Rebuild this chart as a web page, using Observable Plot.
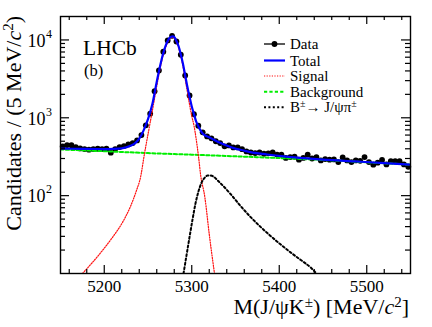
<!DOCTYPE html>
<html><head><meta charset="utf-8">
<script src="https://cdn.jsdelivr.net/npm/d3@7"></script>
<script src="https://cdn.jsdelivr.net/npm/@observablehq/plot@0.6"></script>
<style>
body{margin:0;background:#fff;}
#chart{position:relative;width:432px;height:327px;}
</style>
</head><body><div id="chart"></div>
<script>
// ---- data ----
const dataMass = [5152.5,5157.5,5162.5,5167.5,5172.5,5177.5,5182.5,5187.5,5192.5,5197.5,
  5202.5,5207.5,5212.5,5217.5,5222.5,5227.5,5232.5,5237.5,5242.5,5247.5,
  5252.5,5257.5,5262.5,5267.5,5272.5,5277.5,5282.5,5287.5,5292.5,5297.5,
  5302.5,5307.5,5312.5,5317.5,5322.5,5327.5,5332.5,5337.5,5342.5,5347.5,
  5352.5,5357.5,5362.5,5367.5,5372.5,5377.5,5382.5,5387.5,5392.5,5397.5,
  5402.5,5407.5,5412.5,5417.5,5422.5,5427.5,5432.5,5437.5,5442.5,5447.5,
  5452.5,5457.5,5462.5,5467.5,5472.5,5477.5,5482.5,5487.5,5492.5,5497.5,
  5502.5,5507.5,5512.5,5517.5,5522.5,5527.5,5532.5,5537.5,5542.5,5547.5];
const dataCounts = [429,446,444,420,404,396,389,396,400,396,
  400,356,396,420,433,455,473,512,600,800,
  1130,2200,4050,7050,9850,11300,9550,6450,3500,1940,
  1110,790,650,577,545,500,473,430,442,416,
  416,395,370,358,352,358,345,350,360,337,
  335,305,313,316,290,305,336,300,313,283,
  295,290,292,270,310,283,270,283,280,313,
  270,250,265,288,252,277,277,277,252,235];

const totalMass = [5150,5175,5200,5210,5220,5230,5235,5240,5245,5250,5255,5260,5265,5270,5275,5278,5280,5282.5,5285,5287.5,5290,5292.5,5295,5297.5,5300,5302.5,5305,5307.5,5310,5313,5321,5333,5340,5348,5358,5367,5386,5405,5428,5450,5487,5520,5550];
const totalVal  = [402,399,397,399,405,437,470,540,690,960,1500,2900,5300,8300,10700,11100,10900,9700,8300,6500,4900,3500,2500,1850,1400,1120,900,780,690,620,555,473,440,408,383,362,338,319,303,290,275,262,250];

const sigMass = [5175.1,5186.6,5198,5209.4,5220.9,5230,5236.9,5241.4,5246,5250.6,5255,5260,5265,5270,5275,5278,5280,5282.5,5285,5287.5,5290,5292.5,5295,5297.5,5300,5302.5,5305,5308,5310,5315,5320,5326];
const sigVal  = [10,13.9,19.8,29.1,45.4,72.8,117,171,348,668,1240,2550,4950,7950,10350,10750,10550,9350,7950,6150,4550,3150,2150,1480,1050,800,540,300,190,95,32,10];

const bkgMass = [5150,5200,5250,5300,5350,5400,5450,5500,5550];
const bkgVal  = [392,372,352,336,320,304,288,268,250];

const bpiMass = [5290.6,5294,5297.4,5300.9,5304.3,5307.7,5311.1,5314.6,5318,5321.4,5332.9,5344.3,5355.7,5367.1,5378.6,5390,5401.4,5412.9,5424.3,5435.7,5442.6];
const bpiVal  = [10,17.1,29.1,49.5,79.5,113.5,146,169,181,181,144,105,73.8,53.3,39.7,30.4,23.7,18.7,15,12,10];

const xTicks = [5200,5300,5400,5500];
const xMinorTicks = [5160,5180,5220,5240,5260,5280,5320,5340,5360,5380,5420,5440,5460,5480,5520,5540];
const yTicks = [100,1000,10000];
const yTickExp = ["2","3","4"];
const yMinorTicks = [20,30,40,50,60,70,80,90,200,300,400,500,600,700,800,900,2000,3000,4000,5000,6000,7000,8000,9000];

// ---- tables ----
const zip = (a,b) => a.map((m,i)=>({m, v:b[i]}));
const data = zip(dataMass, dataCounts);
const total = zip(totalMass, totalVal);
const sig = zip(sigMass, sigVal);
const bkg = zip(bkgMass, bkgVal);
const bpi = zip(bpiMass, bpiVal);

const W=432, H=327, mL=60, mR=22, mT=16, mB=54;
const fw = W-mL-mR, fh = H-mT-mB;
const ff = "Liberation Serif";

const dashes = {sig:"1.2,1.4", bkg:"3.2,2.2", bpi:"2,2.4"};

const plot = Plot.plot({
  width: W, height: H,
  marginLeft: mL, marginRight: mR, marginTop: mT, marginBottom: mB,
  style: {fontFamily: ff, fontSize: "18px", color: "black", background: "white", overflow: "visible"},
  x: {domain: [5150, 5550]},
  y: {type: "log", domain: [10, 20000]},
  marks: [
    Plot.dot(data, {x:"m", y:"v", r:2.9, fill:"black", stroke:"none"}),
    Plot.line(bkg, {x:"m", y:"v", stroke:"#00ee00", strokeWidth:2, strokeDasharray:dashes.bkg, curve:"monotone-x", clip:true}),
    Plot.line(sig, {x:"m", y:"v", stroke:"#ff1010", strokeWidth:1.2, strokeDasharray:dashes.sig, curve:"monotone-x", clip:true}),
    Plot.line(bpi, {x:"m", y:"v", stroke:"#000000", strokeWidth:2, strokeDasharray:dashes.bpi, curve:"monotone-x", clip:true}),
    Plot.line(total, {x:"m", y:"v", stroke:"#0000ff", strokeWidth:2.2, curve:"monotone-x", clip:true}),
    // inward ticks, bottom/top
    Plot.ruleX(xTicks, {x:d=>d, insetTop: fh-8, stroke:"black", strokeWidth:1.2}),
    Plot.ruleX(xMinorTicks, {x:d=>d, insetTop: fh-4, stroke:"black", strokeWidth:1.2}),
    Plot.ruleX(xTicks, {x:d=>d, insetBottom: fh-8, stroke:"black", strokeWidth:1.2}),
    Plot.ruleX(xMinorTicks, {x:d=>d, insetBottom: fh-4, stroke:"black", strokeWidth:1.2}),
    // inward ticks, left/right
    Plot.ruleY(yTicks, {y:d=>d, insetRight: fw-9, stroke:"black", strokeWidth:1.2}),
    Plot.ruleY(yMinorTicks, {y:d=>d, insetRight: fw-5, stroke:"black", strokeWidth:1.2}),
    Plot.ruleY(yTicks, {y:d=>d, insetLeft: fw-9, stroke:"black", strokeWidth:1.2}),
    Plot.ruleY(yMinorTicks, {y:d=>d, insetLeft: fw-5, stroke:"black", strokeWidth:1.2}),
    Plot.frame({stroke:"black", strokeWidth:1.4}),
    Plot.axisX(xTicks, {tickSize:0, tickPadding:6, fontSize:17, tickFormat:d=>String(d), label:null}),
    Plot.axisY(yTicks, {tickSize:0, tickPadding:15, fontSize:18, tickFormat:()=>"10", label:null, dy:1}),
    Plot.text(yTicks, {y:d=>d, text:(d,i)=>yTickExp[i], frameAnchor:"left", textAnchor:"start", dx:-14.5, dy:-6, fontSize:12})
  ]
});
document.getElementById("chart").appendChild(plot);

const svg = d3.select(plot);
// make sure the dash patterns reach the drawn paths
[["#00ee00",dashes.bkg],["#ff1010",dashes.sig],["#000000",dashes.bpi]].forEach(([c,d])=>{
  svg.selectAll(`g[stroke="${c}"]`).attr("stroke-dasharray", d).selectAll("path").attr("stroke-dasharray", d);
});

// y axis title
const yl = svg.append("text").attr("transform","translate(21,16) rotate(-90)")
  .attr("text-anchor","end").attr("font-family",ff).attr("font-size",22).attr("fill","black");
yl.append("tspan").text("Candidates / (5 MeV/");
yl.append("tspan").attr("font-style","italic").text("c");
yl.append("tspan").attr("font-size",15).attr("dy",-8).text("2");
yl.append("tspan").attr("dy",8).text(")");

// x axis title
const xl = svg.append("text").attr("x",409).attr("y",314)
  .attr("text-anchor","end").attr("font-family",ff).attr("font-size",22).attr("fill","black");
xl.append("tspan").text("M(J/\u03C8K");
xl.append("tspan").attr("font-size",15).attr("dy",-7).text("\u00B1");
xl.append("tspan").attr("dy",7).text(") [MeV/");
xl.append("tspan").attr("font-style","italic").text("c");
xl.append("tspan").attr("font-size",15).attr("dy",-7).text("2");
xl.append("tspan").attr("dy",7).text("]");

// LHCb label
svg.append("text").attr("x",83).attr("y",55).attr("text-anchor","start").attr("font-family",ff).attr("font-size",21.5).text("LHCb");
svg.append("text").attr("x",84).attr("y",76).attr("text-anchor","start").attr("font-family",ff).attr("font-size",16.5).text("(b)");

// legend
const lg = svg.append("g").attr("font-family",ff).attr("font-size",15).attr("text-anchor","start");
const rows = [44, 60.5, 76, 91.7, 107.3];
const lx1 = 264, lx2 = 285, tx = 290;
lg.append("line").attr("x1",lx1).attr("x2",lx2).attr("y1",rows[0]).attr("y2",rows[0]).attr("stroke","black").attr("stroke-width",1.3);
lg.append("circle").attr("cx",(lx1+lx2)/2).attr("cy",rows[0]).attr("r",2.9).attr("fill","black");
lg.append("line").attr("x1",lx1).attr("x2",lx2).attr("y1",rows[1]).attr("y2",rows[1]).attr("stroke","#0000ff").attr("stroke-width",2.2);
lg.append("line").attr("x1",lx1).attr("x2",lx2).attr("y1",rows[2]).attr("y2",rows[2]).attr("stroke","#ff1010").attr("stroke-width",1.2).attr("stroke-dasharray",dashes.sig);
lg.append("line").attr("x1",lx1).attr("x2",lx2).attr("y1",rows[3]).attr("y2",rows[3]).attr("stroke","#00ee00").attr("stroke-width",2).attr("stroke-dasharray",dashes.bkg);
lg.append("line").attr("x1",lx1).attr("x2",lx2).attr("y1",rows[4]).attr("y2",rows[4]).attr("stroke","black").attr("stroke-width",2).attr("stroke-dasharray",dashes.bpi);
const labels = ["Data","Total","Signal","Background"];
labels.forEach((s,i)=>lg.append("text").attr("x",tx).attr("y",rows[i]+5).text(s));
const bt = lg.append("text").attr("x",tx).attr("y",rows[4]+5);
bt.append("tspan").text("B");
bt.append("tspan").attr("font-size",10).attr("dy",-5).text("\u00B1");
bt.append("tspan").attr("dy",5).text("\u2192 J/\u03C8\u03C0");
bt.append("tspan").attr("font-size",10).attr("dy",-5).text("\u00B1");
</script>
</body></html>
